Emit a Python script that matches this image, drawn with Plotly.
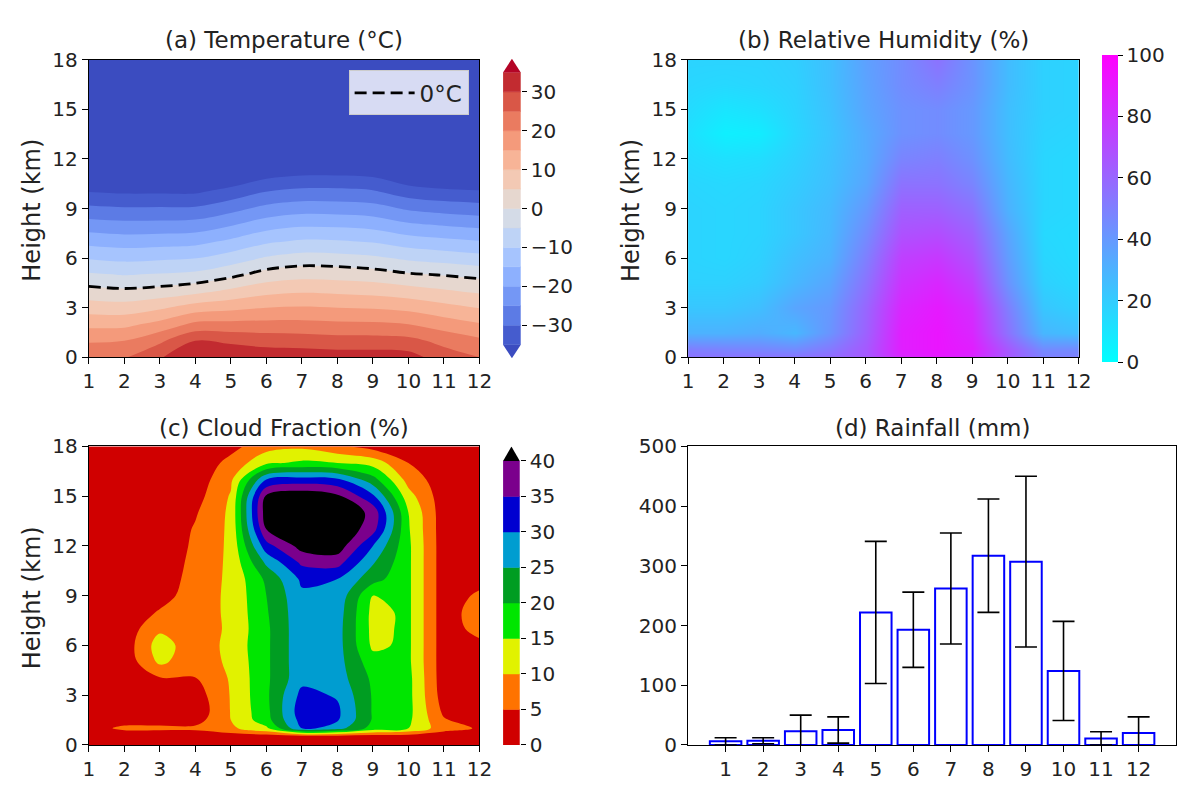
import plotly.graph_objects as go

# ---------------- data ----------------
months = [1, 2, 3, 4, 5, 6, 7, 8, 9, 10, 11, 12]

# (a) temperature (deg C), rows = heights (km), cols = months
temp_heights = [0, 1, 2, 3, 4, 5, 6, 7, 8, 9, 10, 11, 12, 14, 16, 18]
temp_c = [
    [23.5, 24.5, 29.5, 34.5, 34.0, 33.0, 33.0, 32.5, 32.5, 32.0, 27.5, 25.0],
    [19.5, 20.0, 24.0, 30.0, 29.0, 28.0, 27.5, 27.0, 27.0, 26.5, 23.5, 21.0],
    [13.6, 13.7, 16.6, 21.2, 21.4, 21.5, 21.5, 21.0, 20.8, 20.0, 17.5, 15.4],
    [7.7, 7.3, 9.2, 12.4, 13.7, 15.0, 15.4, 15.0, 14.6, 13.6, 11.6, 9.8],
    [1.8, 1.0, 1.8, 3.5, 6.1, 8.5, 9.4, 9.0, 8.4, 7.1, 5.6, 4.2],
    [-4.3, -5.2, -4.6, -3.8, -1.3, 2.0, 3.3, 3.0, 2.2, 0.6, -0.3, -1.4],
    [-10.4, -11.3, -10.8, -10.2, -7.6, -4.5, -2.9, -3.2, -4.1, -5.9, -7.0, -8.2],
    [-16.6, -17.4, -17.0, -16.5, -14.0, -10.8, -9.3, -9.5, -10.4, -12.5, -13.7, -14.7],
    [-22.7, -23.4, -23.3, -22.9, -20.4, -17.2, -15.7, -15.9, -16.7, -19.1, -20.3, -21.3],
    [-28.9, -29.5, -29.4, -29.3, -26.7, -23.5, -22.1, -22.3, -23.0, -25.7, -27.0, -27.8],
    [-35.0, -35.6, -35.6, -35.6, -33.1, -29.9, -28.6, -28.6, -29.3, -32.4, -33.7, -34.3],
    [-41.1, -41.7, -41.8, -42.0, -39.5, -36.3, -35.0, -35.0, -35.6, -39.0, -40.3, -40.9],
    [-47.0, -48.0, -48.0, -48.4, -45.8, -42.6, -41.4, -41.4, -41.9, -45.6, -47.0, -47.4],
    [-59, -59, -60, -60, -58, -56, -55, -55, -55, -58, -59, -59],
    [-68, -68, -69, -69, -68, -67, -66, -66, -66, -68, -68, -68],
    [-72, -72, -73, -73, -72, -71, -70, -70, -70, -72, -72, -72],
]
temp_levels = [-35, -30, -25, -20, -15, -10, -5, 0, 5, 10, 15, 20, 25, 30, 35]
temp_ticks = [-30, -20, -10, 0, 10, 20, 30]

# (b) relative humidity (%)
rh_heights = [0, 0.5, 1.5, 3, 4.5, 6, 7.5, 9, 10.5, 12, 13.5, 15, 16.5, 18]
rh = [
    [55, 55, 55, 55, 58, 65, 85, 90, 85, 65, 50, 50],
    [50, 48, 47, 45, 52, 65, 88, 92, 88, 65, 45, 45],
    [30, 30, 32, 28, 42, 62, 88, 92, 85, 55, 28, 25],
    [22, 22, 25, 35, 40, 60, 85, 90, 82, 50, 22, 18],
    [18, 18, 20, 28, 35, 55, 80, 85, 75, 42, 18, 15],
    [17, 16, 18, 25, 30, 50, 75, 78, 68, 38, 16, 14],
    [17, 16, 17, 22, 28, 45, 68, 70, 62, 35, 15, 14],
    [17, 16, 17, 22, 27, 40, 62, 62, 55, 30, 16, 15],
    [16, 15, 16, 20, 25, 35, 55, 55, 48, 28, 16, 15],
    [14, 12, 13, 18, 24, 33, 48, 50, 43, 26, 16, 15],
    [12, 6, 7, 16, 23, 33, 43, 45, 40, 25, 17, 16],
    [14, 10, 12, 17, 24, 35, 43, 45, 40, 25, 18, 17],
    [16, 15, 16, 18, 25, 36, 45, 50, 42, 26, 18, 17],
    [17, 17, 17, 19, 25, 37, 45, 55, 42, 26, 18, 17],
]
rh_ticks = [0, 20, 40, 60, 80, 100]

# (c) cloud fraction (%)
cloud_heights = [0, 0.5, 1, 1.5, 2, 3, 4, 5, 6, 7, 8, 9, 10, 11, 12, 13, 14, 15, 16, 17, 18]
cloud_frac = [
    [1, 1, 1, 1, 1, 1, 1, 1, 1, 1, 1, 1],
    [1, 1.5, 1.5, 1.5, 2, 2, 2, 2, 2, 2, 1.5, 1],
    [3, 6, 6, 6, 9, 14, 30, 27, 18, 15, 7, 4.5],
    [2, 3, 3, 3, 10, 18, 32, 30.5, 19.5, 16, 5.5, 2],
    [1, 2, 2, 1.5, 10.2, 18.5, 33, 31, 19.5, 16.5, 4, 1.5],
    [1, 1, 2, 2.5, 10.3, 19, 31.5, 29.5, 19.5, 16.5, 2.5, 1],
    [1, 1, 4.5, 4.8, 10.5, 19, 28.5, 27.5, 19, 16.5, 2, 1],
    [1, 1.5, 11, 7, 11, 19, 28.5, 27, 17, 16, 2, 1],
    [1, 2, 12.5, 6.8, 11.5, 19, 28.5, 27, 14, 16, 2, 3.5],
    [1, 2, 9, 7, 11, 19, 28.5, 27, 13.5, 16, 2, 7],
    [1, 1.5, 5.5, 7.5, 11, 19.5, 28.5, 27.5, 13.5, 16, 2, 8],
    [1, 1, 3, 7.5, 11, 20, 29, 28.5, 15, 16, 2, 6],
    [1, 1, 2, 7, 11, 21, 31, 30, 22, 16, 2, 3],
    [1, 1, 1.5, 6.5, 11, 26, 36, 37, 25.5, 16, 2, 1],
    [1, 1, 1, 6, 11, 33, 42, 43, 30, 16, 2, 1],
    [1, 1, 1, 5.5, 11, 40, 46, 45, 37, 15.5, 2, 1],
    [1, 1, 1, 4.5, 11, 43, 47, 45, 38.5, 15, 2, 1],
    [1, 1, 1, 3, 10.5, 41, 44, 41, 31, 12, 2, 1],
    [1, 1, 1, 2, 9, 30, 32, 31, 22, 8, 2, 1],
    [1, 1, 1, 1.5, 6.5, 14, 16, 15, 13, 5, 1.5, 1],
    [1, 1, 1, 1, 3.5, 8, 9, 6, 3, 2, 1, 1],
]
cloud_levels = [0, 5, 10, 15, 20, 25, 30, 35, 40]

# (d) rainfall (mm)
rain_mean = [6, 7, 23, 25, 222, 193, 262, 317, 307, 124, 11, 20]
rain_std = [6, 5, 27, 22, 119, 63, 93, 95, 143, 83, 11, 27]

height_ticks = [0, 3, 6, 9, 12, 15, 18]
rain_ticks = [0, 100, 200, 300, 400, 500]

# ---------------- styling ----------------
# the page body has an 8px margin, so the figure is drawn 8px in from the window edge
OFF = 8
W, H = 1198 - OFF, 787 - OFF
FONT = "DejaVu Sans"
TXT = "#222222"


def fx(p):
    return (p - OFF) / W


def fy(p):
    return 1 - (p - OFF) / H


COOLWARM = [(59, 76, 192), (68, 90, 204), (77, 104, 215), (87, 117, 225), (98, 130, 234),
            (108, 142, 241), (119, 154, 247), (130, 165, 251), (141, 176, 254), (152, 185, 255),
            (163, 194, 255), (174, 201, 253), (184, 208, 249), (194, 213, 244), (204, 217, 238),
            (213, 219, 230), (221, 221, 221), (229, 216, 209), (236, 211, 197), (241, 204, 185),
            (245, 196, 173), (247, 187, 160), (247, 177, 148), (247, 166, 135), (244, 154, 123),
            (241, 141, 111), (236, 127, 99), (229, 112, 88), (222, 96, 77), (213, 80, 66),
            (203, 62, 56), (192, 40, 47), (180, 4, 38)]


def coolwarm(p):
    n = len(COOLWARM) - 1
    f = max(0.0, min(1.0, p)) * n
    i = min(int(f), n - 1)
    t = f - i
    c = [COOLWARM[i][j] * (1 - t) + COOLWARM[i + 1][j] * t for j in range(3)]
    return "rgb(%d,%d,%d)" % tuple(int(round(v)) for v in c)


n_tb = len(temp_levels) - 1
temp_band_colors = [coolwarm((k + 0.5) / n_tb) for k in range(n_tb)]
temp_under = coolwarm(0.0)
temp_over = coolwarm(1.0)
temp_all = [temp_under] + temp_band_colors + [temp_over]
temp_cs = [[k / (len(temp_all) - 1), c] for k, c in enumerate(temp_all)]

cloud_band_colors = ["#d00000", "#ff7300", "#e1f200", "#00e600", "#009d22",
                     "#009dd0", "#0000d0", "#7b008c"]
cloud_over = "#000000"
cloud_all = [cloud_band_colors[0]] + cloud_band_colors + [cloud_over]
cloud_cs = [[k / (len(cloud_all) - 1), c] for k, c in enumerate(cloud_all)]

cool_cs = [[0, "rgb(0,255,255)"], [1, "rgb(255,0,255)"]]

XA = [fx(84), fx(481)]
XB = [fx(693), fx(1090)]
XD = [fx(693), fx(1189)]
YT = [fy(356), fy(49)]
YB = [fy(756), fy(448)]

TICKF = dict(family=FONT, size=20, color=TXT)
axis_style = dict(showline=True, linecolor="black", linewidth=1.2, mirror=True,
                  ticks="outside", ticklen=6, tickwidth=1.2, tickcolor="black",
                  showgrid=False, zeroline=False, tickfont=TICKF)

fig = go.Figure()

# (a) temperature
fig.add_trace(go.Contour(
    x=months, y=temp_heights, z=temp_c, autocontour=False,
    contours=dict(start=temp_levels[0], end=temp_levels[-1], size=5,
                  coloring="fill", showlines=False),
    colorscale=temp_cs, showscale=False, line=dict(width=0),
    hoverinfo="skip", showlegend=False, xaxis="x", yaxis="y"))
fig.add_trace(go.Contour(
    x=months, y=temp_heights, z=temp_c, autocontour=False,
    contours=dict(start=0, end=0, size=1, coloring="none"),
    line=dict(color="black", width=2.8, dash="12px,6px", smoothing=1),
    showscale=False, showlegend=False, hoverinfo="skip", xaxis="x", yaxis="y"))
fig.add_trace(go.Scatter(
    x=[None], y=[None], mode="lines", name="0°C",
    line=dict(color="black", width=2.8, dash="12px,6px"),
    xaxis="x", yaxis="y", showlegend=True))

# (b) relative humidity
fig.add_trace(go.Heatmap(
    x=months, y=rh_heights, z=rh, zsmooth="best", zmin=0, zmax=100,
    colorscale=cool_cs, hoverinfo="skip", showlegend=False,
    colorbar=dict(x=fx(1114), xanchor="left", xpad=0, ypad=0, thickness=16,
                  lenmode="pixels", len=307, y=fy(202.5), yanchor="middle",
                  outlinewidth=0, ticks="outside", ticklen=5, tickcolor="black",
                  tickvals=rh_ticks, tickfont=TICKF),
    xaxis="x2", yaxis="y2"))

# (c) cloud fraction
fig.add_trace(go.Contour(
    x=months, y=cloud_heights, z=cloud_frac, autocontour=False,
    contours=dict(start=cloud_levels[0], end=cloud_levels[-1], size=5,
                  coloring="fill", showlines=False),
    colorscale=cloud_cs, showscale=False, line=dict(width=0, smoothing=1),
    hoverinfo="skip", showlegend=False, xaxis="x3", yaxis="y3"))

# (d) rainfall
fig.add_trace(go.Bar(
    x=months, y=rain_mean, width=0.84,
    marker=dict(color="rgba(255,255,255,0)", line=dict(color="#0000ff", width=2)),
    error_y=dict(type="data", array=rain_std, visible=True, color="black",
                 thickness=1.6, width=11),
    hoverinfo="skip", xaxis="x4", yaxis="y4", showlegend=False))

# colour bars for (a) and (c)
temp_sizes = [temp_levels[i + 1] - temp_levels[i] for i in range(n_tb)]
fig.add_trace(go.Bar(
    x=[0] * n_tb, y=temp_sizes, base=temp_levels[:-1], width=1,
    marker=dict(color=temp_band_colors, line=dict(color=temp_band_colors, width=0.5)),
    hoverinfo="skip", showlegend=False, xaxis="x5", yaxis="y5"))
n_cb = len(cloud_levels) - 1
cloud_sizes = [cloud_levels[i + 1] - cloud_levels[i] for i in range(n_cb)]
fig.add_trace(go.Bar(
    x=[0] * n_cb, y=cloud_sizes, base=cloud_levels[:-1], width=1,
    marker=dict(color=cloud_band_colors, line=dict(color=cloud_band_colors, width=0.5)),
    hoverinfo="skip", showlegend=False, xaxis="x6", yaxis="y6"))

t_ext = 3.5
c_ext = 2.05
shapes = [
    dict(type="path", xref="x5", yref="y5", layer="above",
         path="M -0.5 %g L 0.5 %g L 0 %g Z" % (temp_levels[-1], temp_levels[-1], temp_levels[-1] + t_ext),
         fillcolor=temp_over, line=dict(width=0)),
    dict(type="path", xref="x5", yref="y5", layer="above",
         path="M -0.5 %g L 0.5 %g L 0 %g Z" % (temp_levels[0], temp_levels[0], temp_levels[0] - t_ext),
         fillcolor=temp_under, line=dict(width=0)),
    dict(type="path", xref="x6", yref="y6", layer="above",
         path="M -0.5 %g L 0.5 %g L 0 %g Z" % (cloud_levels[-1], cloud_levels[-1], cloud_levels[-1] + c_ext),
         fillcolor=cloud_over, line=dict(width=0)),
]

TITLEF = dict(family=FONT, size=23, color=TXT)
LABF = dict(family=FONT, size=24, color=TXT)
annotations = []
for text, xc, yc in [("(a) Temperature (°C)", (84 + 481) / 2, 29),
                     ("(b) Relative Humidity (%)", (693 + 1090) / 2, 29),
                     ("(c) Cloud Fraction (%)", (84 + 481) / 2, 429),
                     ("(d) Rainfall (mm)", (693 + 1189) / 2, 429)]:
    annotations.append(dict(text=text, x=fx(xc), y=fy(yc), xref="paper", yref="paper",
                            showarrow=False, xanchor="center", yanchor="middle", font=TITLEF))
for xc, yc in [(26, 204), (635, 204), (26, 604)]:
    annotations.append(dict(text="Height (km)", x=fx(xc), y=fy(yc), xref="paper", yref="paper",
                            showarrow=False, xanchor="center", yanchor="middle",
                            textangle=-90, font=LABF))

cb_axis = dict(side="right", ticks="outside", ticklen=5, tickwidth=1.2, tickcolor="black",
               showline=False, showgrid=False, zeroline=False, tickfont=TICKF, fixedrange=True)

fig.update_layout(
    width=W, height=H, margin=dict(l=0, r=0, t=0, b=0),
    paper_bgcolor="white", plot_bgcolor="white",
    font=dict(family=FONT, color=TXT),
    barmode="overlay",
    showlegend=True,
    legend=dict(x=fx(470), xanchor="right", y=fy(60), yanchor="top",
                bgcolor="rgba(255,255,255,0.8)", bordercolor="#cccccc", borderwidth=1,
                itemwidth=60, font=dict(family=FONT, size=23, color=TXT)),
    xaxis=dict(domain=XA, range=[1, 12], tickvals=months, anchor="y", **axis_style),
    yaxis=dict(domain=YT, range=[0, 18], tickvals=height_ticks, anchor="x", **axis_style),
    xaxis2=dict(domain=XB, range=[1, 12], tickvals=months, anchor="y2", **axis_style),
    yaxis2=dict(domain=YT, range=[0, 18], tickvals=height_ticks, anchor="x2", **axis_style),
    xaxis3=dict(domain=XA, range=[1, 12], tickvals=months, anchor="y3", **axis_style),
    yaxis3=dict(domain=YB, range=[0, 18], tickvals=height_ticks, anchor="x3", **axis_style),
    xaxis4=dict(domain=XD, range=[0, 13], tickvals=months, anchor="y4", **axis_style),
    yaxis4=dict(domain=YB, range=[0, 500], tickvals=rain_ticks, anchor="x4", **axis_style),
    xaxis5=dict(domain=[fx(505), fx(523)], range=[-0.5, 0.5], visible=False, anchor="y5",
                fixedrange=True),
    yaxis5=dict(domain=[fy(357), fy(48)], range=[temp_levels[0] - t_ext, temp_levels[-1] + t_ext],
                tickvals=temp_ticks, anchor="x5", **cb_axis),
    xaxis6=dict(domain=[fx(505), fx(522)], range=[-0.5, 0.5], visible=False, anchor="y6",
                fixedrange=True),
    yaxis6=dict(domain=[fy(756), fy(448)], range=[cloud_levels[0], cloud_levels[-1] + c_ext],
                tickvals=cloud_levels, anchor="x6", **cb_axis),
    shapes=shapes,
    annotations=annotations,
)

fig.write_html("out.html")
